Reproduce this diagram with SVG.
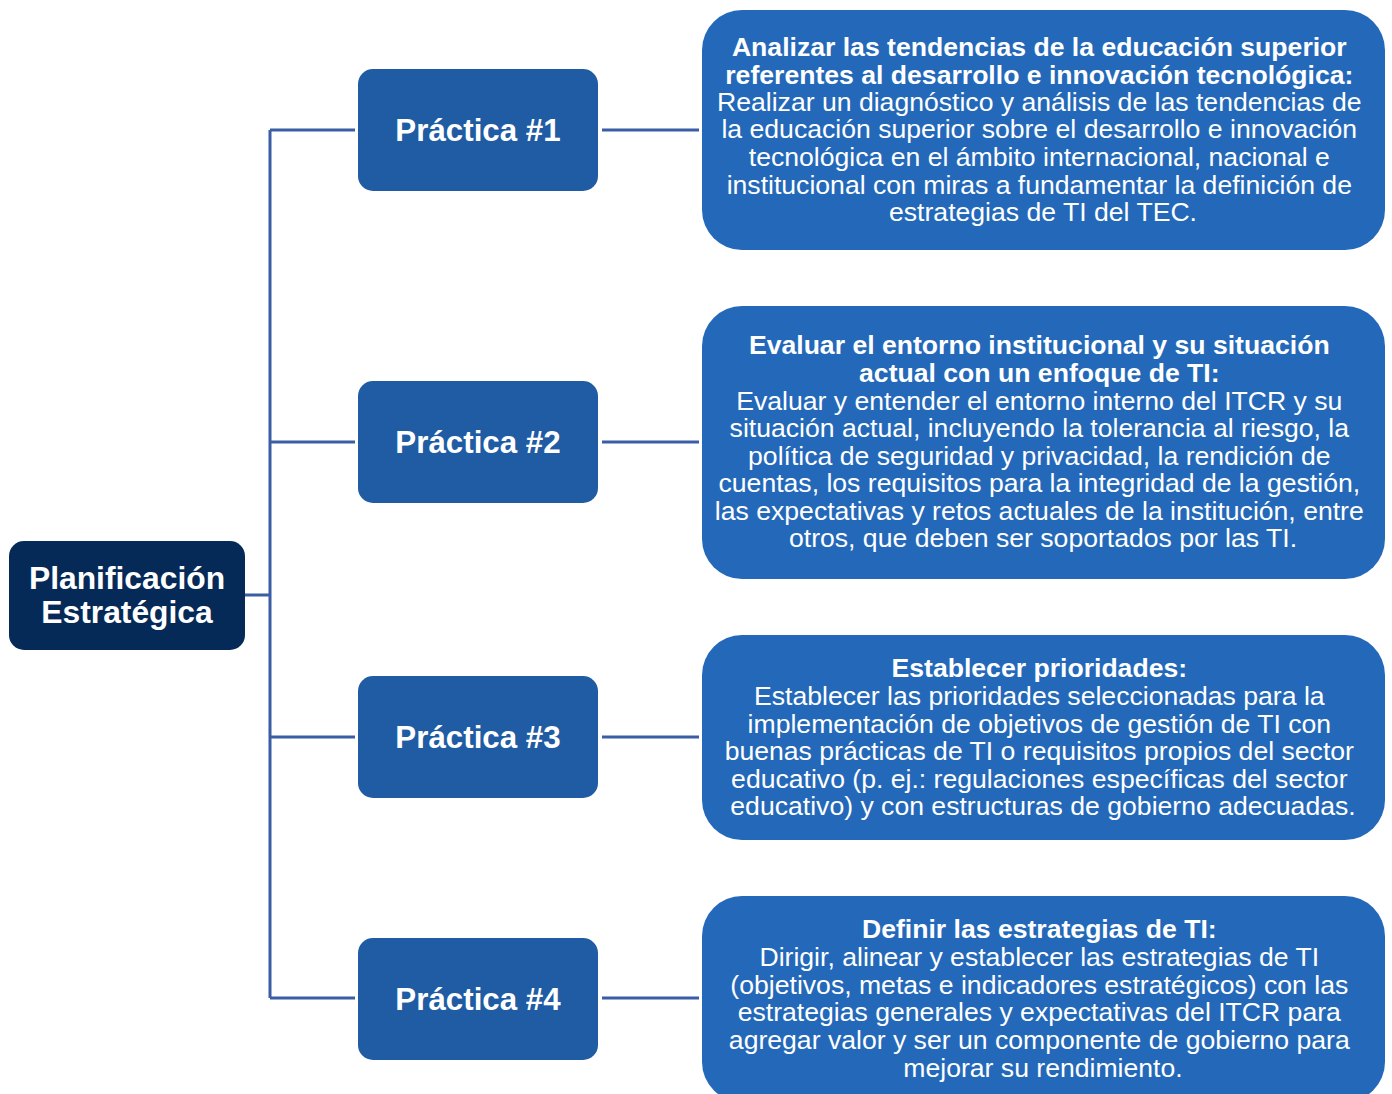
<svg xmlns="http://www.w3.org/2000/svg" width="1392" height="1094" viewBox="0 0 1392 1094">
<style>
.root{fill:#052a57}
.prac{fill:#1f5ca3}
.desc{fill:#2469b9}
.conn{stroke:#3b5da6;stroke-width:3;fill:none}
.t{font-family:"Liberation Sans",Arial,sans-serif;fill:#fff;text-anchor:middle}
.b{font-weight:bold}
.d{font-size:26.6px}
.p{font-size:31.3px;font-weight:bold}
.r{font-size:31.8px;font-weight:bold}
</style>
<rect width="1392" height="1094" fill="#fff"/>
<g id="connectors">
<path class="conn" d="M245 595H270M270 130V998M270 130H355M270 442H355M270 737H355M270 998H355"/>
<path class="conn" d="M602 130H699M602 442H699M602 737H699M602 998H699"/>
</g>
<g id="root">
<rect class="root" x="9" y="541" width="236" height="109" rx="15"/>
<text class="t r" x="127" y="589">Planificación</text>
<text class="t r" x="127" y="623">Estratégica</text>
</g>
<g id="practica1">
<rect class="prac" x="358" y="69" width="240" height="122" rx="15"/>
<text class="t p" x="478" y="141">Práctica #1</text>
</g>
<g id="practica2">
<rect class="prac" x="358" y="381" width="240" height="122" rx="15"/>
<text class="t p" x="478" y="453">Práctica #2</text>
</g>
<g id="practica3">
<rect class="prac" x="358" y="676" width="240" height="122" rx="15"/>
<text class="t p" x="478" y="748">Práctica #3</text>
</g>
<g id="practica4">
<rect class="prac" x="358" y="938" width="240" height="122" rx="15"/>
<text class="t p" x="478" y="1010">Práctica #4</text>
</g>
<g id="desc1">
<rect class="desc" x="702" y="10" width="683" height="240" rx="40"/>
<text class="t d" x="1043">
<tspan class="b" x="1043" y="56">Analizar las tendencias de la educación superior</tspan>
<tspan class="b" x="1043" y="84">referentes al desarrollo e innovación tecnológica:</tspan>
<tspan x="1043" y="111">Realizar un diagnóstico y análisis de las tendencias de</tspan>
<tspan x="1043" y="138">la educación superior sobre el desarrollo e innovación</tspan>
<tspan x="1043" y="166">tecnológica en el ámbito internacional, nacional e</tspan>
<tspan x="1043" y="194">institucional con miras a fundamentar la definición de</tspan>
<tspan x="1043" y="221">estrategias de TI del TEC.</tspan>
</text>
</g>
<g id="desc2">
<rect class="desc" x="702" y="306" width="683" height="273" rx="40"/>
<text class="t d" x="1043">
<tspan class="b" x="1043" y="354">Evaluar el entorno institucional y su situación</tspan>
<tspan class="b" x="1043" y="382">actual con un enfoque de TI:</tspan>
<tspan x="1043" y="410">Evaluar y entender el entorno interno del ITCR y su</tspan>
<tspan x="1043" y="437">situación actual, incluyendo la tolerancia al riesgo, la</tspan>
<tspan x="1043" y="465">política de seguridad y privacidad, la rendición de</tspan>
<tspan x="1043" y="492">cuentas, los requisitos para la integridad de la gestión,</tspan>
<tspan x="1043" y="520">las expectativas y retos actuales de la institución, entre</tspan>
<tspan x="1043" y="547">otros, que deben ser soportados por las TI.</tspan>
</text>
</g>
<g id="desc3">
<rect class="desc" x="702" y="635" width="683" height="205" rx="40"/>
<text class="t d" x="1043">
<tspan class="b" x="1043" y="677">Establecer prioridades:</tspan>
<tspan x="1043" y="705">Establecer las prioridades seleccionadas para la</tspan>
<tspan x="1043" y="733">implementación de objetivos de gestión de TI con</tspan>
<tspan x="1043" y="760">buenas prácticas de TI o requisitos propios del sector</tspan>
<tspan x="1043" y="788">educativo (p. ej.: regulaciones específicas del sector</tspan>
<tspan x="1043" y="815">educativo) y con estructuras de gobierno adecuadas.</tspan>
</text>
</g>
<g id="desc4">
<rect class="desc" x="702" y="896" width="683" height="206" rx="40"/>
<text class="t d" x="1043">
<tspan class="b" x="1043" y="938">Definir las estrategias de TI:</tspan>
<tspan x="1043" y="966">Dirigir, alinear y establecer las estrategias de TI</tspan>
<tspan x="1043" y="994">(objetivos, metas e indicadores estratégicos) con las</tspan>
<tspan x="1043" y="1021">estrategias generales y expectativas del ITCR para</tspan>
<tspan x="1043" y="1049">agregar valor y ser un componente de gobierno para</tspan>
<tspan x="1043" y="1077">mejorar su rendimiento.</tspan>
</text>
</g>
</svg>
